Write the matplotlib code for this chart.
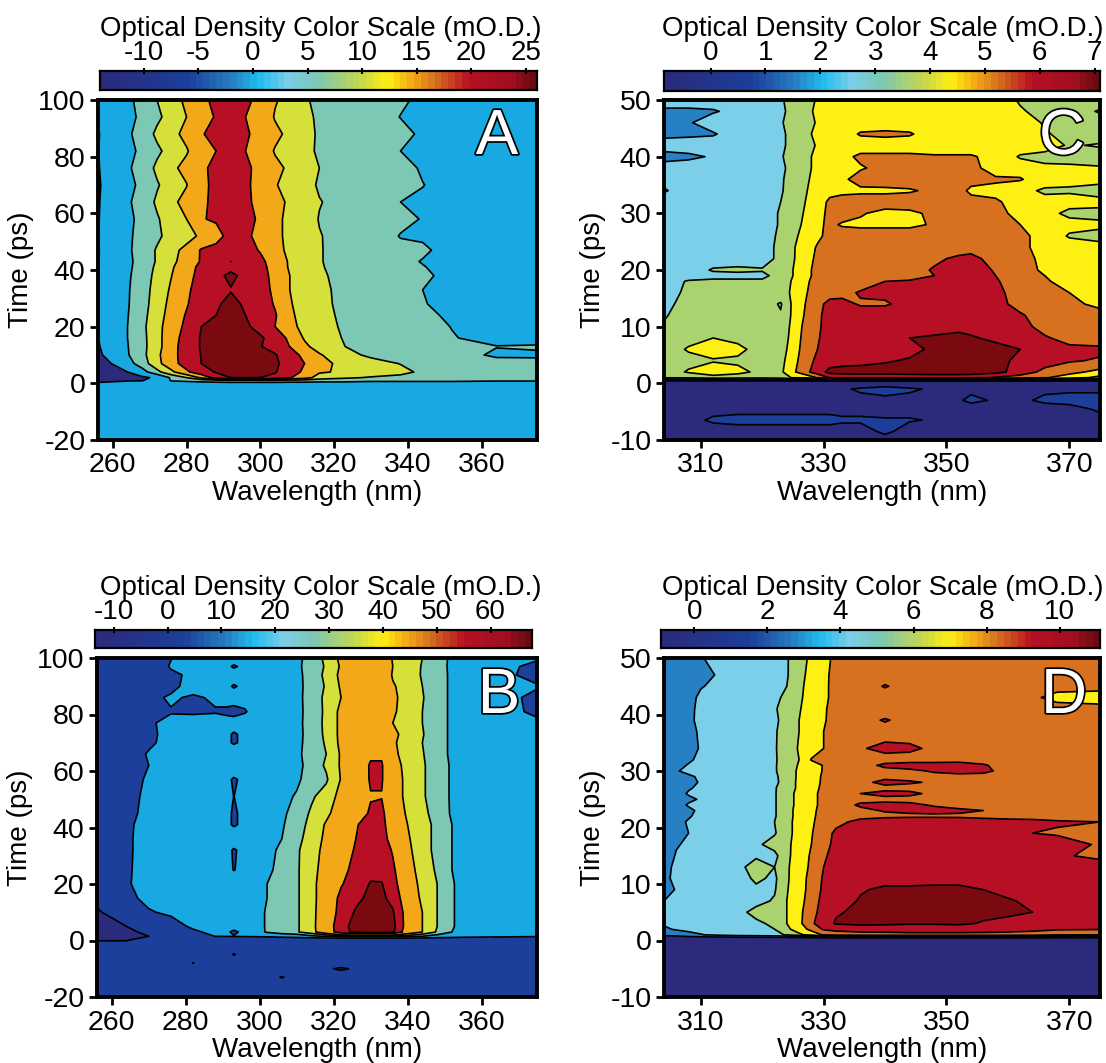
import numpy as np
import matplotlib
matplotlib.use("Agg")
import matplotlib.pyplot as plt
import matplotlib.patheffects as pe
from matplotlib.colors import LinearSegmentedColormap

plt.rcParams['font.family'] = ['Liberation Sans', 'DejaVu Sans']
plt.rcParams['axes.unicode_minus'] = False

NAVY, BLUE, MID, BRIGHT = '#2b2a7c', '#1c3f9b', '#2780c4', '#19a9e2'
LIGHT, TEAL, YG, GREEN = '#7bcfe9', '#7dc8b4', '#d6e03a', '#aad26f'
YEL, ORY, ORG, RED, DARK = '#fff014', '#f2a818', '#d7711f', '#b70f23', '#7a0a10'

# Panel A
wave_a = [256,259,264,268,272,276,280,284,288,292,296,300,304,308,312,316,322,330,338,344,352,364,375]
time_a = [100,94,88,82,76,70,64,58,52,47,43,41,38,33,28,24,20,16,13,10,7,4,2,1,0,-1,-20]
z_a = [
[-3,-1,1,3.5,7,10,13,16,19,21,19,15.5,12.5,10,7.5,6,5.5,4.5,2.6,1.2,.5,.2,0],
[-3.5,-1,.6,3,6,9,12,15,18,21,17.5,16.5,11.5,9,8.2,6.2,5.5,4,1.9,1.8,.5,.2,0],
[-4.5,-1,1.2,4,8,10.5,13.5,17,19.5,21,18.5,15,13.5,10.5,7.5,6.8,5.6,4.5,3.2,1.3,.5,.2,0],
[-4.2,-1,.7,3,6,9,11.5,15.5,17.5,21,17.5,16,11.5,9.5,8.5,6.2,5.6,4.2,2,1.6,.5,.2,0],
[-4.5,-1,1.3,4,8,11,13.5,16,19.5,21,19.5,14.5,13.5,11,7.5,7,5.7,4.5,3.2,1.6,.6,.2,0],
[-5,-1,.8,3,6.5,9.5,11.8,17,18,21,18,16.5,12.5,9.5,8.5,6.5,5.7,4.4,2.8,2.1,.6,.2,0],
[-4.6,-1,1.3,4,7.8,11,13.5,15.5,20,21.5,19.2,15,14,11,8,7.2,5.8,4.6,2,1.4,.6,.2,0],
[-4.4,-1,1,3.2,6.5,9.5,12,17,18.5,21.5,18.5,17,12.5,11.5,9,6.8,5.9,4.6,3,1.8,.6,.2,0],
[-4,-.8,1.2,3.5,6,9,10,13,14.5,20.5,18.5,16,13.5,10.5,8,7.2,5.8,4.5,1.8,1.5,.6,.2,0],
[-4.4,-1,1.2,4,7.5,10.5,13.5,18,20,22.5,20,17,13.5,11,8.6,7.2,6,4.8,3,2.6,.6,.2,0],
[-4.3,-1,1,3.7,7.5,11,14,18,22.5,24.02,22,19,14.5,11.5,8.8,7.2,6,4.8,3,1.8,.6,.2,0],
[-4.3,-1,1.1,3.9,8,11.5,15,19,22.5,23,22.5,19.5,15,11.5,9,7.3,6,4.9,3.2,2.2,.6,.2,0],
[-4.3,-1,1.3,4.3,8.5,12,15.5,19.5,23,24.8,23,20,15.5,12,9,7.5,6.2,5,3.5,2.8,.7,.3,0],
[-4.3,-1,1.5,4.8,9,12.8,16.5,20,23.3,23.8,23.2,20.5,16,12,9.3,7.8,6.3,5,3.4,2,.8,.3,0],
[-4.3,-1,1.6,5,9.5,13.5,17,21,23.5,25,23.5,20.5,17,12.5,9.5,8,6.3,5,3.6,2.2,1,.3,0],
[-4.3,-1,1.8,5.4,10,14,18,22,24,25.3,24,21,18,13,10,8.2,6.5,5.2,4,2.8,1.4,.4,0],
[-4.2,-1,2,5.8,10.5,14.6,18.8,24,25,25.5,25,22,17.5,13.5,10.5,9,6.6,5.4,4.2,3.2,1.9,.5,0],
[-4.2,-1.2,2,5.5,10.5,15,20,24.5,25.3,25.7,25.5,24.8,21.5,16,11.5,9.5,7,5.5,4.4,3.6,2.2,.8,.2],
[-4.5,-1.6,1.8,5.4,10.5,15,21,24.4,25.3,25.8,25.6,24.3,21.5,17.4,13,10,7.2,5.6,4.6,3.8,2.7,2.1,2.4],
[-5,-2.6,1.6,5.5,11,15.5,20.5,24.2,25.5,26,25.7,25,24.5,20,16,12.5,9,6,5,4.2,3.3,1.5,1.5],
[-7,-4.5,0,4.5,10.5,15.5,20,24,25.5,26,25.7,25.2,24.8,22,17.5,13.5,11,9,6.8,5,4.2,3.2,3],
[-9,-7,-4,0,5.5,11,16.5,21,24.5,25,25,25,24.5,20,16.5,12.5,11.5,10,8.5,6,5,4.5,4],
[-11,-9,-7,-5,-3,3,7,13,20,24,24.5,24,22,18,14,10,8,6.5,5.5,5,4.5,4,4],
[-6,-5,-4.5,-4.2,-2,2.5,3,4,5,6,6,6,6,5,5,4,4,3,3,3,3,2.5,2.5],
[-3,-3,-2,-2,-1,-.5,0,0,0,0,0,0,0,0,0,0,0,0,0,0,0,0,0],
[0,0,0,0,0,0,0,0,0,0,0,0,0,0,0,0,0,0,0,0,0,0,0],
[0,0,0,0,0,0,0,0,0,0,0,0,0,0,0,0,0,0,0,0,0,0,0],
]
levels_a = [-4, 2, 7, 12, 17.5, 24]
colors_a = [NAVY, BRIGHT, TEAL, YG, ORY, RED, DARK]

# Panel B
wave_b = [256,264,270,276,282,288,291,293,296,302,306,310,314,318,322,326,330,333,336,340,344,348,352,356,368,375]
time_b = [100,97,94,90,86,81,77,73,70,66,62,57,51,45,41,36,32,25,20,15,10,5,3,1.5,.5,-5,-8,-10,-13,-20]
z_b = [
[0,2,4,7.8,10,10,10,10,10,13,15,18,23,30,38,42,47,46,35,31.5,28,23.5,18.5,14,9,9],
[0,2,4,8.5,10,10,9,7.5,9,13,15,18.5,23,29,37,42,47,46,36,32,27.5,23,18.5,14,9,6],
[0,2,5,7,9,10,10,10,10,13,15,18,23,30,38,42,47,45,35,31,27.5,23.5,18.5,14,8.5,6],
[0,2,4,6,11,10,9,7.6,9,13,15,18.5,22,29,37,41,47,46,37,32,28,23.5,18.5,14,9,8.5],
[0,2,6,9,7,9,10,10,10,13,15,18,23,30,36,43,47,46,38,32,28.5,23.5,18.5,14,9,6.5],
[0,5,7,7.5,7,7.5,7,6.5,7.5,13,15,18.5,22,30,38,42,47,46,37,33,28,23.5,18.5,14,9,7],
[0,3,7,10,11,11,10,10,11,13,15,18,23,30,38,43,48,47,36,33,28,23.5,18.5,14,9,9],
[0,4,6,11,12,11,9,7.5,9,13,15,18.5,22,30,38,43,48,46,38,33,28.5,23.5,18.5,14,10,10],
[0,4,7,10,11,11,9,7.5,9,14,15,18,23,29,38,43,48,47,37,33,28,23.5,18.5,14,10,10],
[0,5,8.5,11,11,11,11,11,11,14,15,18.5,23,28,37,43,49.5,49.5,38,32.5,28.5,23.5,18.5,14,10,10],
[0,5,8,11,11,11,11,11,11,14,15,17,24,29,37,44,52,52,40,33,29,24,19,14,10,10],
[0,5,9,11,12,11,9,7.5,9,14,16,18,25,27,36.5,43,52,52,40,34,29,24,19,14,10,10],
[0,5,10,11,12,12,11,7.9,11,15,17,21,27,31,39,44,50.5,50.5,40,34,29,24,19,14,10,10],
[0,6,10,12,12,12,9,7.5,9,15,18,24,29,34,41,47,52,54,41,35,30,25,19,15,10,10],
[0,7,10,12,12,12,9,7.5,9,15,19,25,30,37,43,50,56,55,43,36,31,26,20,15,10,10],
[0,7,10.5,12,12,12,11,11,11,16,20,26,31,38,45,51,56,56,46,37,31,26,20,15,11,10],
[0,7,10.5,12,12,12,9.5,7.5,9.5,17,22,27,32,39,46,52,57,57,50,38,31,26,20,15,11,10],
[0,7,11,12,12,12,9.5,7.8,9.5,18,23,27,33,40,47,55,59,58,53,40,32,27,20,15,11,10],
[-3,7.2,11,12,12,12,12,12,12,20,24,27,33,42,50,57,61.5,61.5,55,42,33,28,21,15,11,10],
[-6,5,11,12,12,12,12,12,12,20,24,27,33,42,54,59,63,63,58,44,34,28,21,15,11,10],
[-9,-3,7,10,12,12,12,12,12,21,25,27,33,43,55,62,66,66,62,46,36,28,21,15,11,10],
[-12,-8,-3,3,10,12,12,12,12,21,25,27,33,44,58,64,68,68,64,46,36,28,21,15,11,10],
[-13,-10,-6,0,6,11,10,6,11,21,25,27,33,43,58,63,66,66,63,44,36,27,20,14,11,10],
[-14,-11,-8,-3,3,8.2,8.5,8.5,9,10,12,14,18,21,25,26,26,26,26,24,20,16,14,12,10,9],
[-9,-9,-6,-2,0, 0,0,0,0,0, 0,0,0,0,0, 0,0,0,0,0, 0,0,0,0,0, 0],
[0,0,0,0,0, 0,-5,-8.5,-5,0, 0,0,0,0,0, 0,0,0,0,0, 0,0,0,0,0, 0],
[0,0,0,0,-8.2, 0,0,0,0,0, 0,0,0,0,0, 0,0,0,0,0, 0,0,0,0,0, 0],
[0,0,0,0,0, 0,0,0,0,0, 0,0,-2,-6,-10, -6,0,0,0,0, 0,0,0,0,0, 0],
[0,0,0,0,0, 0,0,0,0,-6, -8.3,-6,0,0,0, 0,0,0,0,0, 0,0,0,0,0, 0],
[0,0,0,-5,-8.5, -8.5,-5,0,0,0, 0,0,0,0,0, 0,0,0,0,0, 0,0,0,0,0, 0],
]
levels_b = [-8, 8, 20, 28, 36, 51, 61]
colors_b = [NAVY, BLUE, BRIGHT, TEAL, YG, ORY, RED, DARK]

# Panel C
wave_c = [304,308,312,316,320,323,325,327,329,331,333,336,340,344,348,352,354,358,362,366,370,375]
time_c = [50,48,46,44,42,40,38,36,34,32,30,28,26,24,22,20,19,18,16,14,12,10,8,6,4,2,1,.3,-1,-3,-4.5,-6.5,-8.5,-10]
z_c = [
[2,2,2,2,2,2.4,2.8,3.1,3.6,4,4,4,4.4,4,4,4,4,4,3.4,3.2,3,3],
[1.3,1.3,1.4,1.8,2,2.3,2.8,3.2,3.7,4,4,4,4,4,4,4,4,4,3.6,3.2,3,2.4],
[1.2,1.4,2,2,2,2.4,2.9,3.1,3.6,4,4,4,4,4,4,4,4,4,4,3.4,3,3],
[1.2,1.3,1.4,2,2,2.3,2.8,3.2,3.8,4,4,4.6,4.7,4.6,4,4,4,4,4,3.6,3.2,3],
[2,2,2,2,2,2.3,2.8,3.1,3.6,4,4,4,4,4,4,4,4,4,4,3.9,3.4,3.6],
[1.1,1.3,1.6,2,2,2.4,2.9,3.3,3.7,4,4.2,4.7,4.7,4.7,4.6,4.6,4.6,4.2,3.4,3.2,3.1,3],
[2,2,2,2,2,2.3,2.8,3.2,3.8,4.2,4.4,4.4,4.8,4.9,5,4.7,4.7,4.2,4,3.7,3.7,3.6],
[1.8,2,2,2,2,2.4,2.8,3.3,3.9,4.1,4.3,4.9,5,5,5,5,5,4.6,4.6,3.8,3.7,3.8],
[1.4,2,2,2,2,2.4,2.9,3.4,4,4.2,4.2,4.3,4.3,4.4,4.7,5,4.2,4.3,3.7,3.4,3.4,3.1],
[2,2,2,2,2,2.5,3,3.5,4,4.7,5,5,5,5,5,5,5,4.6,4.2,3.7,3.8,3.8],
[2,2,2,2,2,2.6,3,3.6,4.2,4.7,4.9,4.6,4.2,4.3,4.7,5,5,4.8,4.2,3.8,3.3,3.2],
[2,2,2,2,2,2.6,3.1,3.7,4.3,4.7,4.4,4.3,4.3,4.3,4.6,5,5,4.9,4.5,3.8,3.8,3.7],
[2,2,2,2,2,2.7,3.3,3.8,4.3,4.8,5,5,5,5,5,5,5,5,4.7,4.2,3.4,3.2],
[2,2.2,2.3,2,2,2.8,3.4,4,4.6,5,5,5,5,5,5,5,5.1,5,4.7,4.2,4,3.8],
[2,2,2,2,2,2.8,3.4,4.1,4.7,5,5,5,5,5,5.3,5.7,5.8,5.1,4.8,4.3,3.7,3.6],
[2,2,2.6,2.7,2.6,2.9,3.5,4.2,4.8,5,5,5,5,5.1,5.6,5.9,6,5.4,5,4.3,4.1,3.9],
[2,2,2.2,2.2,2.2,3,3.5,4.2,4.8,5,5,5,5,5.1,5.5,5.9,5.9,5.5,5,4.5,4,4],
[2,2.6,2.7,2.7,2.7,3,3.6,4.3,4.9,5,5,5,5.5,5.6,5.7,5.9,5.9,5.6,5,4.6,4.2,4],
[2.1,2.7,3,3,3,3,3.7,4.4,5,5.1,5.2,5.6,5.7,5.7,5.8,5.9,5.9,5.8,5,4.8,4.5,4.3],
[2.2,2.9,3,3,3,2.4,3.7,4.5,5.2,5.8,5.8,5.4,5.4,5.8,5.9,5.9,5.9,5.8,5.2,5,4.7,4.3],
[2.4,3,3,3,3,2.6,3.7,4.6,5.3,5.9,6,6,6,6,6,6,6,6,5.6,5.1,4.9,4.8],
[2.6,3,3.3,3,3,3,3.7,4.8,5.3,6,6,5.8,5.7,6,6.2,6.3,6.2,6,5.8,5.2,5,5],
[3,3.2,3.5,3.2,3,3,3.8,4.9,5.4,6,6,6,6,6.5,6.6,6.7,6.6,6.3,6,5.6,5.2,5],
[3,3.6,4,3.8,3,3.1,3.9,5,5.5,6,6,6,6,6.2,6.7,6.9,6.9,6.8,6.5,5.8,5.7,5.7],
[3,3.2,3.4,3.3,3,3.2,4.1,5.1,5.7,6,6.1,6.2,6.4,6.6,6.9,7,7,6.9,6.2,6,5.6,5.4],
[3,3.6,4.2,3.8,3.2,3.3,4.3,5.2,6,6.8,6.9,6.9,6.9,7,7.1,7.1,7.1,6.8,6.1,5.2,4.8,4.2],
[2.6,2.7,3,2.9,2.8,3,3.6,3.7,4.6,5.6,5.7,5.8,5.8,5.8,5.8,5.8,5.7,5.4,5,4.6,4,3.2],
[-1,-1,-1,-1,-1,-1,-1,-1,-1,-1,-1,-1,-1,-1,-1,-1,-1,-1,-1,-1,-1,-1],
[-.4,-.4,-.35,-.35,-.4,-.4,-.4,-.4,-.4,-.4,-.4,-.2,0,-.2,-.4,-.4,-.4,-.4,-.4,-.4,-.4,-.4],
[-.32,-.36,-.4,-.38,-.33,-.4,-.5,-.5,-.5,-.5,-.5,-.5,-.5,-.5,-.5,-.35,-.2,-.35,-.4,-.2,-.1,-.1],
[-.5,-.5,-.5,-.5,-.5,-.5,-.5,-.5,-.5,-.5,-.5,-.5,-.5,-.5,-.5,-.5,-.5,-.5,-.5,-.5,-.5,-.2],
[-.5,-.5,-.2,-.1,-.1,-.1,-.1,-.1,-.1,-.1,-.2,-.2,-.25,-.25,-.35,-.5,-.5,-.5,-.5,-.5,-.5,-.5],
[-.6,-.6,-.6,-.6,-.6,-.6,-.6,-.6,-.6,-.6,-.6,-.6,-.15,-.6,-.6,-.6,-.6,-.6,-.6,-.6,-.6,-.6],
[-.6,-.6,-.6,-.6,-.6,-.6,-.6,-.6,-.6,-.6,-.6,-.6,-.6,-.6,-.6,-.6,-.6,-.6,-.6,-.6,-.6,-.6],
]
levels_c = [-.3, .7, 1.5, 2.5, 3.5, 4.5, 5.5, 6.5]
colors_c = [NAVY, BLUE, MID, LIGHT, GREEN, YEL, ORG, RED, DARK]

# Panel D
wave_d = [304,306,308,310,313,316,319,322,324,326,328,330,332,336,340,344,348,352,356,360,364,368,375]
time_d = [50,47,45,43,41,39,37,34,32,31,30,29,28,27,26,25,24,23,22,21,19,17,15,13,11,9,7,5,3,2,1,.3,-1,-10]
z_d = [
[2,2.2,2.5,2.9,3.5,3.8,4.1,4.4,4.6,5.4,6,7,7.7,8,8,8,8,8,8,8,8,8,8],
[2,2.2,2.5,2.7,3.1,3.8,4.1,4.4,4.6,5.5,6.1,7.1,7.8,8.4,8.4,8.4,8.4,8.4,8.4,8.4,8.4,8.4,8.4],
[2,2.2,2.5,2.9,3.4,3.8,4.1,4.4,4.7,5.5,6.3,7.2,7.7,8.3,9.1,8.4,8.4,8.4,8.4,8.4,8.4,8.4,8.4],
[2,2.3,2.5,3.3,3.9,4.4,4.7,4.4,5,5.6,6.3,7.2,7.7,8.4,8.4,8.4,8.4,8.4,8.4,8.4,7.9,6.5,6],
[2,2.3,2.8,3.2,3.5,3.9,4.2,4.6,5.1,5.7,6.4,7.3,7.7,8.4,8.4,8.4,8.4,8.4,8.4,8.4,8.4,8.6,8.4],
[2,2.3,2.5,3.6,3.8,3.9,4.2,4.5,5.1,5.8,6.5,7.3,7.8,8.6,9.1,8.6,8.4,8.4,8.4,8.4,8.4,8.4,8.7],
[2,2.3,2.8,3.1,3.5,3.9,4.2,4.6,5.1,5.8,6.5,7.4,7.8,8.5,8.5,8.5,8.5,8.5,8.5,8.5,8.5,8.5,8.5],
[2,2.3,2.6,3.1,3.6,3.9,4.2,4.6,5.2,5.9,6.6,7.4,7.9,8.9,9.3,9.2,8.8,8.5,8.5,8.5,8.5,8.5,8.5],
[2,2.4,2.8,3.3,3.8,4,4.2,4.6,5.1,5.8,7.5,7.6,7.9,8.6,8.6,8.6,8.6,8.6,8.6,8.6,8.6,8.6,8.6],
[2,2.6,3.1,3.4,3.7,4,4.2,4.6,5.2,5.9,6.7,7.5,8,8.6,9.2,9.4,9.4,9.5,9.1,8.6,8.6,8.6,8.6],
[2.2,2.9,3.3,3.5,3.7,4,4.2,4.6,5.2,6,6.8,7.5,8,8.6,8.7,8.8,9.1,9.3,9.2,8.7,8.6,8.6,8.6],
[2,2.4,2.8,3.2,3.7,4,4.2,4.5,5.2,6,6.8,7.6,8,8.6,8.7,8.7,8.7,8.7,8.7,8.6,8.6,8.6,8.6],
[2,2.4,2.7,3.1,3.7,4,4.2,4.4,5.3,6,6.9,7.6,8,8.7,9.3,9.1,8.9,8.6,8.6,8.6,8.6,8.6,8.6],
[2,2.4,2.9,3.2,3.7,4,4.2,4.6,5.3,6,6.9,7.7,8,8.6,8.7,8.7,8.7,8.6,8.6,8.6,8.6,8.6,8.6],
[2.1,2.6,3.1,3.4,3.7,4,4.2,4.6,5.4,6.1,7.1,7.7,8.1,9,9.3,9.2,8.8,8.6,8.6,8.6,8.6,8.6,8.6],
[2.1,2.4,2.8,3.1,3.7,4,4.2,4.6,5.4,6.1,7.1,7.7,8.1,8.6,8.7,8.7,8.7,8.6,8.6,8.6,8.6,8.6,8.6],
[2.1,2.6,3.1,3.4,3.7,4,4.2,4.6,5.4,6.1,7.1,7.7,8.3,9.2,9.3,9.2,8.9,8.6,8.6,8.6,8.6,8.6,8.6],
[2.1,2.5,2.8,3.2,3.7,4,4.2,4.6,5.4,6.2,7.2,7.7,8.2,8.7,9.1,9.2,9.3,9.2,9,8.7,8.6,8.6,8.6],
[2.1,2.5,2.9,3.3,3.8,4,4.3,4.6,5.4,6.2,7.2,7.8,8.2,8.6,8.7,8.8,8.8,8.8,8.7,8.7,8.6,8.6,8.6],
[2.1,2.7,3.1,3.4,3.7,4,4.3,4.7,5.4,6.3,7.2,8,8.6,9.4,9.8,9.8,9.8,9.7,9.5,9.3,9.3,9.1,9],
[2.2,2.6,3,3.4,3.7,4,4.4,4.6,5.4,6.3,7.3,8.3,9.3,9.8,9.9,9.9,9.9,9.8,9.7,9.4,9,8.9,8.7],
[2.5,2.9,3.2,3.5,3.8,4.1,4.5,5.1,5.5,6.4,7.4,8.5,9.4,9.9,9.9,10,10,9.9,9.8,9.7,9.6,9.4,8.9],
[2.3,3.1,3.3,3.5,3.8,4.2,4.6,4.4,5.5,6.5,7.6,8.8,9.5,9.9,10,10,10,10,9.9,9.7,9.6,9.2,8.7],
[2.7,3.2,3.4,3.6,3.9,4.5,5,4.7,5.6,6.6,7.7,9,9.6,10,10,10,10,10,10,9.9,9.8,9.6,9.6],
[2.8,3.2,3.4,3.7,4,4.2,4.9,4.5,5.6,6.7,7.9,9.2,9.8,10,10.1,10.1,10.2,10.2,10.1,10,9.9,9.8,9.7],
[2.4,3.1,3.4,3.6,4,4.2,4.5,4.6,5.7,6.7,8,9.3,9.9,10.4,10.7,10.7,10.7,10.7,10.5,10.2,10,10,9.8],
[3,3.3,3.5,3.7,4,4.2,4.4,4.8,5.8,6.8,8.2,9.5,10,10.6,10.6,10.7,10.7,10.8,10.7,10.6,10.3,10,10],
[3,3.3,3.5,3.7,4,4.4,5,5.2,5.8,7,8.4,9.7,10.4,10.7,10.7,10.8,10.8,10.9,10.8,10.7,10.5,10.1,10],
[3.2,3.4,3.6,3.8,4,4.2,4.5,4.9,5.8,7,8.7,10,10.6,10.8,10.7,10.6,10.6,10.7,10.4,10.2,10,9.8,9.6],
[2.7,3.2,3.4,3.6,3.9,4.1,4.4,4.7,5.5,6.5,7.9,9.2,9.5,9.7,9.8,9.8,9.8,9.8,9.7,9.6,9.4,9.2,9.1],
[1.5,1.8,2.5,2.9,3.4,3.9,4.1,4.4,4.8,5.5,6.3,7.6,8,8.3,8.3,8.5,8.5,8.5,8.5,8.4,8.3,7.5,7.5],
[-1,-1,-1,-1,-1,-1,-1,-1,-1,-1,-1,-1,-1,-1,-1,-1,-1,-1,-1,-1,-1,-1,-1],
[-1,-1,-1,-1,-1,-1,-1,-1,-1,-1,-1,-1,-1,-1,-1,-1,-1,-1,-1,-1,-1,-1,-1],
[-1,-1,-1,-1,-1,-1,-1,-1,-1,-1,-1,-1,-1,-1,-1,-1,-1,-1,-1,-1,-1,-1,-1],
]
levels_d = [1, 3, 4.7, 5.8, 7.4, 9, 10.5]
colors_d = [NAVY, MID, LIGHT, GREEN, YEL, ORG, RED, DARK]

# scale bars
bar_anchor = [(0, NAVY), (.2, BLUE), (.3, MID), (.36, '#1fbcee'), (.43, LIGHT), (.5, TEAL),
              (.6, '#c8d84a'), (.66, YEL), (.72, ORY), (.77, ORG), (.85, RED), (.95, '#a01020'), (1, '#6b0a10')]
bar_cmap = LinearSegmentedColormap.from_list('od', bar_anchor, N=64)

W, H = 1106, 1063
fig = plt.figure(figsize=(W / 100, H / 100), dpi=100)


def axes_px(x0, x1, y0, y1):
    return fig.add_axes([x0 / W, 1 - y1 / H, (x1 - x0) / W, (y1 - y0) / H])


def panel(box, barbox, wave, times, z, levels, colors, xt, yt, xlim, ylim, barlim, bt, letter, lpos, titlex):
    ax = axes_px(*box)
    for i, row in enumerate(z):
        assert len(row) == len(wave), (letter, i, len(row))
    assert len(z) == len(times), (letter, len(z), len(times))
    z = np.array(z, dtype=float)
    ax.contourf(wave, times, z, levels=[-1000] + levels + [1000], colors=colors)
    ax.contour(wave, times, z, levels=levels, colors='k', linewidths=1.2, linestyles='solid')
    ax.set_xlim(xlim)
    ax.set_ylim(ylim)
    ax.set_xticks(xt)
    ax.set_yticks(yt)
    ax.tick_params(width=2, length=6, labelsize=20.5, pad=3)
    ax.set_xlabel('Wavelength (nm)', fontsize=20, labelpad=1)
    ax.set_ylabel('Time (ps)', fontsize=20, labelpad=3)
    for s in ax.spines.values():
        s.set_linewidth(2.8)
    ax.text(lpos[0], lpos[1], letter, transform=fig.transFigure, fontsize=46, color='white',
            ha='center', va='center', path_effects=[pe.withStroke(linewidth=2.5, foreground='k')])

    cb = axes_px(*barbox)
    grad = np.linspace(0, 1, 64)[None, :]
    cb.imshow(grad, aspect='auto', cmap=bar_cmap, extent=[barlim[0], barlim[1], 0, 1])
    cb.set_yticks([])
    cb.set_xticks(bt)
    cb.xaxis.tick_top()
    cb.tick_params(axis='x', direction='inout', width=1.5, length=5, labelsize=20, pad=1)
    for s in cb.spines.values():
        s.set_linewidth(1.6)
    fig.text(titlex / W, 1 - (barbox[2] - 29) / H, 'Optical Density Color Scale (mO.D.)', fontsize=19.9,
             ha='right', va='bottom')


panel((98, 537, 100, 440), (100, 537, 71, 90), wave_a, time_a, z_a, levels_a, colors_a,
      [260, 280, 300, 320, 340, 360], [-20, 0, 20, 40, 60, 80, 100], (256, 375), (-20, 100),
      (-14, 26), [-10, -5, 0, 5, 10, 15, 20, 25], 'A', (497 / W, 1 - 137 / H), 541)
panel((664, 1100, 100, 440), (664, 1100, 71, 91), wave_c, time_c, z_c, levels_c, colors_c,
      [310, 330, 350, 370], [-10, 0, 10, 20, 30, 40, 50], (304, 375), (-10, 50),
      (-.85, 7.1), [0, 1, 2, 3, 4, 5, 6, 7], 'C', (1062 / W, 1 - 137 / H), 1104)
panel((97, 537, 658, 997), (95, 532, 630, 648), wave_b, time_b, z_b, levels_b, colors_b,
      [260, 280, 300, 320, 340, 360], [-20, 0, 20, 40, 60, 80, 100], (256, 375), (-20, 100),
      (-13.5, 67.7), [-10, 0, 10, 20, 30, 40, 50, 60], 'B', (499 / W, 1 - 696 / H), 541)
panel((664, 1100, 658, 997), (661, 1100, 630, 648), wave_d, time_d, z_d, levels_d, colors_d,
      [310, 330, 350, 370], [-10, 0, 10, 20, 30, 40, 50], (304, 375), (-10, 50),
      (-.91, 11.1), [0, 2, 4, 6, 8, 10], 'D', (1064 / W, 1 - 696 / H), 1104)

fig.savefig('out.png', dpi=100)
